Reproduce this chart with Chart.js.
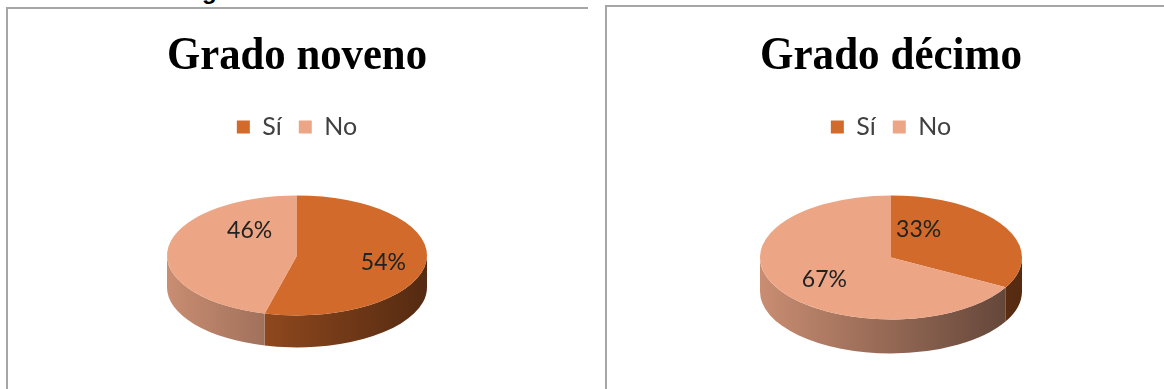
<!DOCTYPE html>
<html><head><meta charset="utf-8">
<script src="https://cdn.jsdelivr.net/npm/chart.js@4.4.0/dist/chart.umd.min.js"></script>
<style>
html,body{margin:0;padding:0;width:1164px;height:389px;overflow:hidden;background:#fff;position:relative}
.frame{position:absolute;border-left:2px solid #a6a6a6;border-top:2px solid #a6a6a6;box-sizing:border-box}
canvas{position:absolute;top:0}
#frag{position:absolute;left:202px;top:-21px;font:bold 24px "Liberation Sans",sans-serif;color:#000;line-height:24px}
</style></head><body>
<div id="frag">g</div>
<div class="frame" style="left:6px;top:7px;width:582px;height:400px"></div>
<div class="frame" style="left:605px;top:5px;width:600px;height:400px"></div>
<canvas id="c1" width="596" height="480" style="left:0"></canvas>
<canvas id="c2" width="590" height="480" style="left:596px"></canvas>
<script>
// ---- data ----
const categories = ['Sí', 'No'];
const novenoValues = [54, 46];
const decimoValues = [33, 67];
const chartTitles = ['Grado noveno', 'Grado décimo'];
const sliceColors = ['#D16A2B', '#ECA686'];

function hexToRgb(h){h=h.replace('#','');return [parseInt(h.substr(0,2),16),parseInt(h.substr(2,2),16),parseInt(h.substr(4,2),16)];}
function shade(rgb,f){return 'rgb('+rgb.map(v=>Math.round(v*f)).join(',')+')';}

const pie3d = {
  id: 'pie3d',
  beforeDatasetsDraw(chart, args, opts) {
    const ctx = chart.ctx;
    const arcs = chart.getDatasetMeta(0).data;
    if (!arcs.length) return false;
    const ds = chart.data.datasets[0];
    const r = arcs[0].outerRadius;
    const cx = arcs[0].x;
    const ry = r * opts.tilt;
    const cy = chart.chartArea.top + opts.topGap + ry;
    const depth = opts.depth;
    const TWO = Math.PI * 2;
    ctx.save();
    // side walls (front half only)
    arcs.forEach((arc, i) => {
      const s = arc.startAngle, e = arc.endAngle;
      const base = hexToRgb(ds.backgroundColor[i]);
      [-TWO, 0, TWO].forEach(off => {
        const lo = Math.max(s, off), hi = Math.min(e, off + Math.PI);
        if (hi <= lo) return;
        const g = ctx.createLinearGradient(cx - r, 0, cx + r, 0);
        g.addColorStop(0, shade(base, opts.sideLight));
        g.addColorStop(1, shade(base, opts.sideDark));
        ctx.beginPath();
        ctx.ellipse(cx, cy, r, ry, 0, lo, hi, false);
        ctx.ellipse(cx, cy + depth, r, ry, 0, hi, lo, true);
        ctx.closePath();
        ctx.fillStyle = g;
        ctx.fill();
      });
    });
    // top faces
    arcs.forEach((arc, i) => {
      ctx.beginPath();
      ctx.moveTo(cx, cy);
      ctx.ellipse(cx, cy, r, ry, 0, arc.startAngle, arc.endAngle, false);
      ctx.closePath();
      ctx.fillStyle = ds.backgroundColor[i];
      ctx.fill();
    });
    // data labels
    const vals = ds.data;
    const sum = vals.reduce((a, b) => a + b, 0);
    ctx.font = opts.labelFont;
    ctx.fillStyle = opts.labelColor;
    ctx.textAlign = 'center';
    ctx.textBaseline = 'middle';
    arcs.forEach((arc, i) => {
      const mid = (arc.startAngle + arc.endAngle) / 2;
      const nd = opts.labelNudge[i] || [0, 0];
      const x = cx + Math.cos(mid) * r * opts.labelRadius + nd[0];
      const y = cy + Math.sin(mid) * ry * opts.labelRadius + nd[1];
      ctx.fillText(Math.round(vals[i] / sum * 100) + '%', x, y);
    });
    ctx.restore();
    return false;
  }
};

function makeChart(id, title, values, pad, p3d) {
  return new Chart(document.getElementById(id), {
    type: 'pie',
    data: { labels: categories, datasets: [{ data: values, backgroundColor: sliceColors, borderWidth: 0 }] },
    options: {
      responsive: false, animation: false, events: [],
      layout: { padding: { left: pad[0], right: pad[1], top: 0, bottom: 0 } },
      plugins: {
        title: { display: true, text: title, color: '#000',
          font: { family: 'Liberation Serif', size: 47, weight: 'bold' }, padding: { top: 29, bottom: 12 } },
        legend: { display: true, position: 'top',
          labels: { boxWidth: 13, boxHeight: 13, padding: 17, color: '#404040',
            font: { family: 'Lato', size: 25 } } },
        tooltip: { enabled: false },
        pie3d: p3d
      }
    },
    plugins: [pie3d]
  });
}

function build() {
  makeChart('c1', chartTitles[0], novenoValues, [167, 169],
    { tilt: 60 / 130, topGap: 46, depth: 32, sideLight: 0.85, sideDark: 0.4,
      labelRadius: 0.6, labelFont: '23px Lato', labelColor: '#222',
      labelNudge: [[9, 2.5], [30, -20]] });
  makeChart('c2', chartTitles[1], decimoValues, [164, 164],
    { tilt: 62 / 131, topGap: 46, depth: 34, sideLight: 0.85, sideDark: 0.4,
      labelRadius: 0.6, labelFont: '23px Lato', labelColor: '#222',
      labelNudge: [[-40, -9], [1, 3]] });
}
Promise.all([
  document.fonts.load('bold 47px "Liberation Serif"'),
  document.fonts.load('25px Lato')
]).then(build, build);
</script>
</body></html>
